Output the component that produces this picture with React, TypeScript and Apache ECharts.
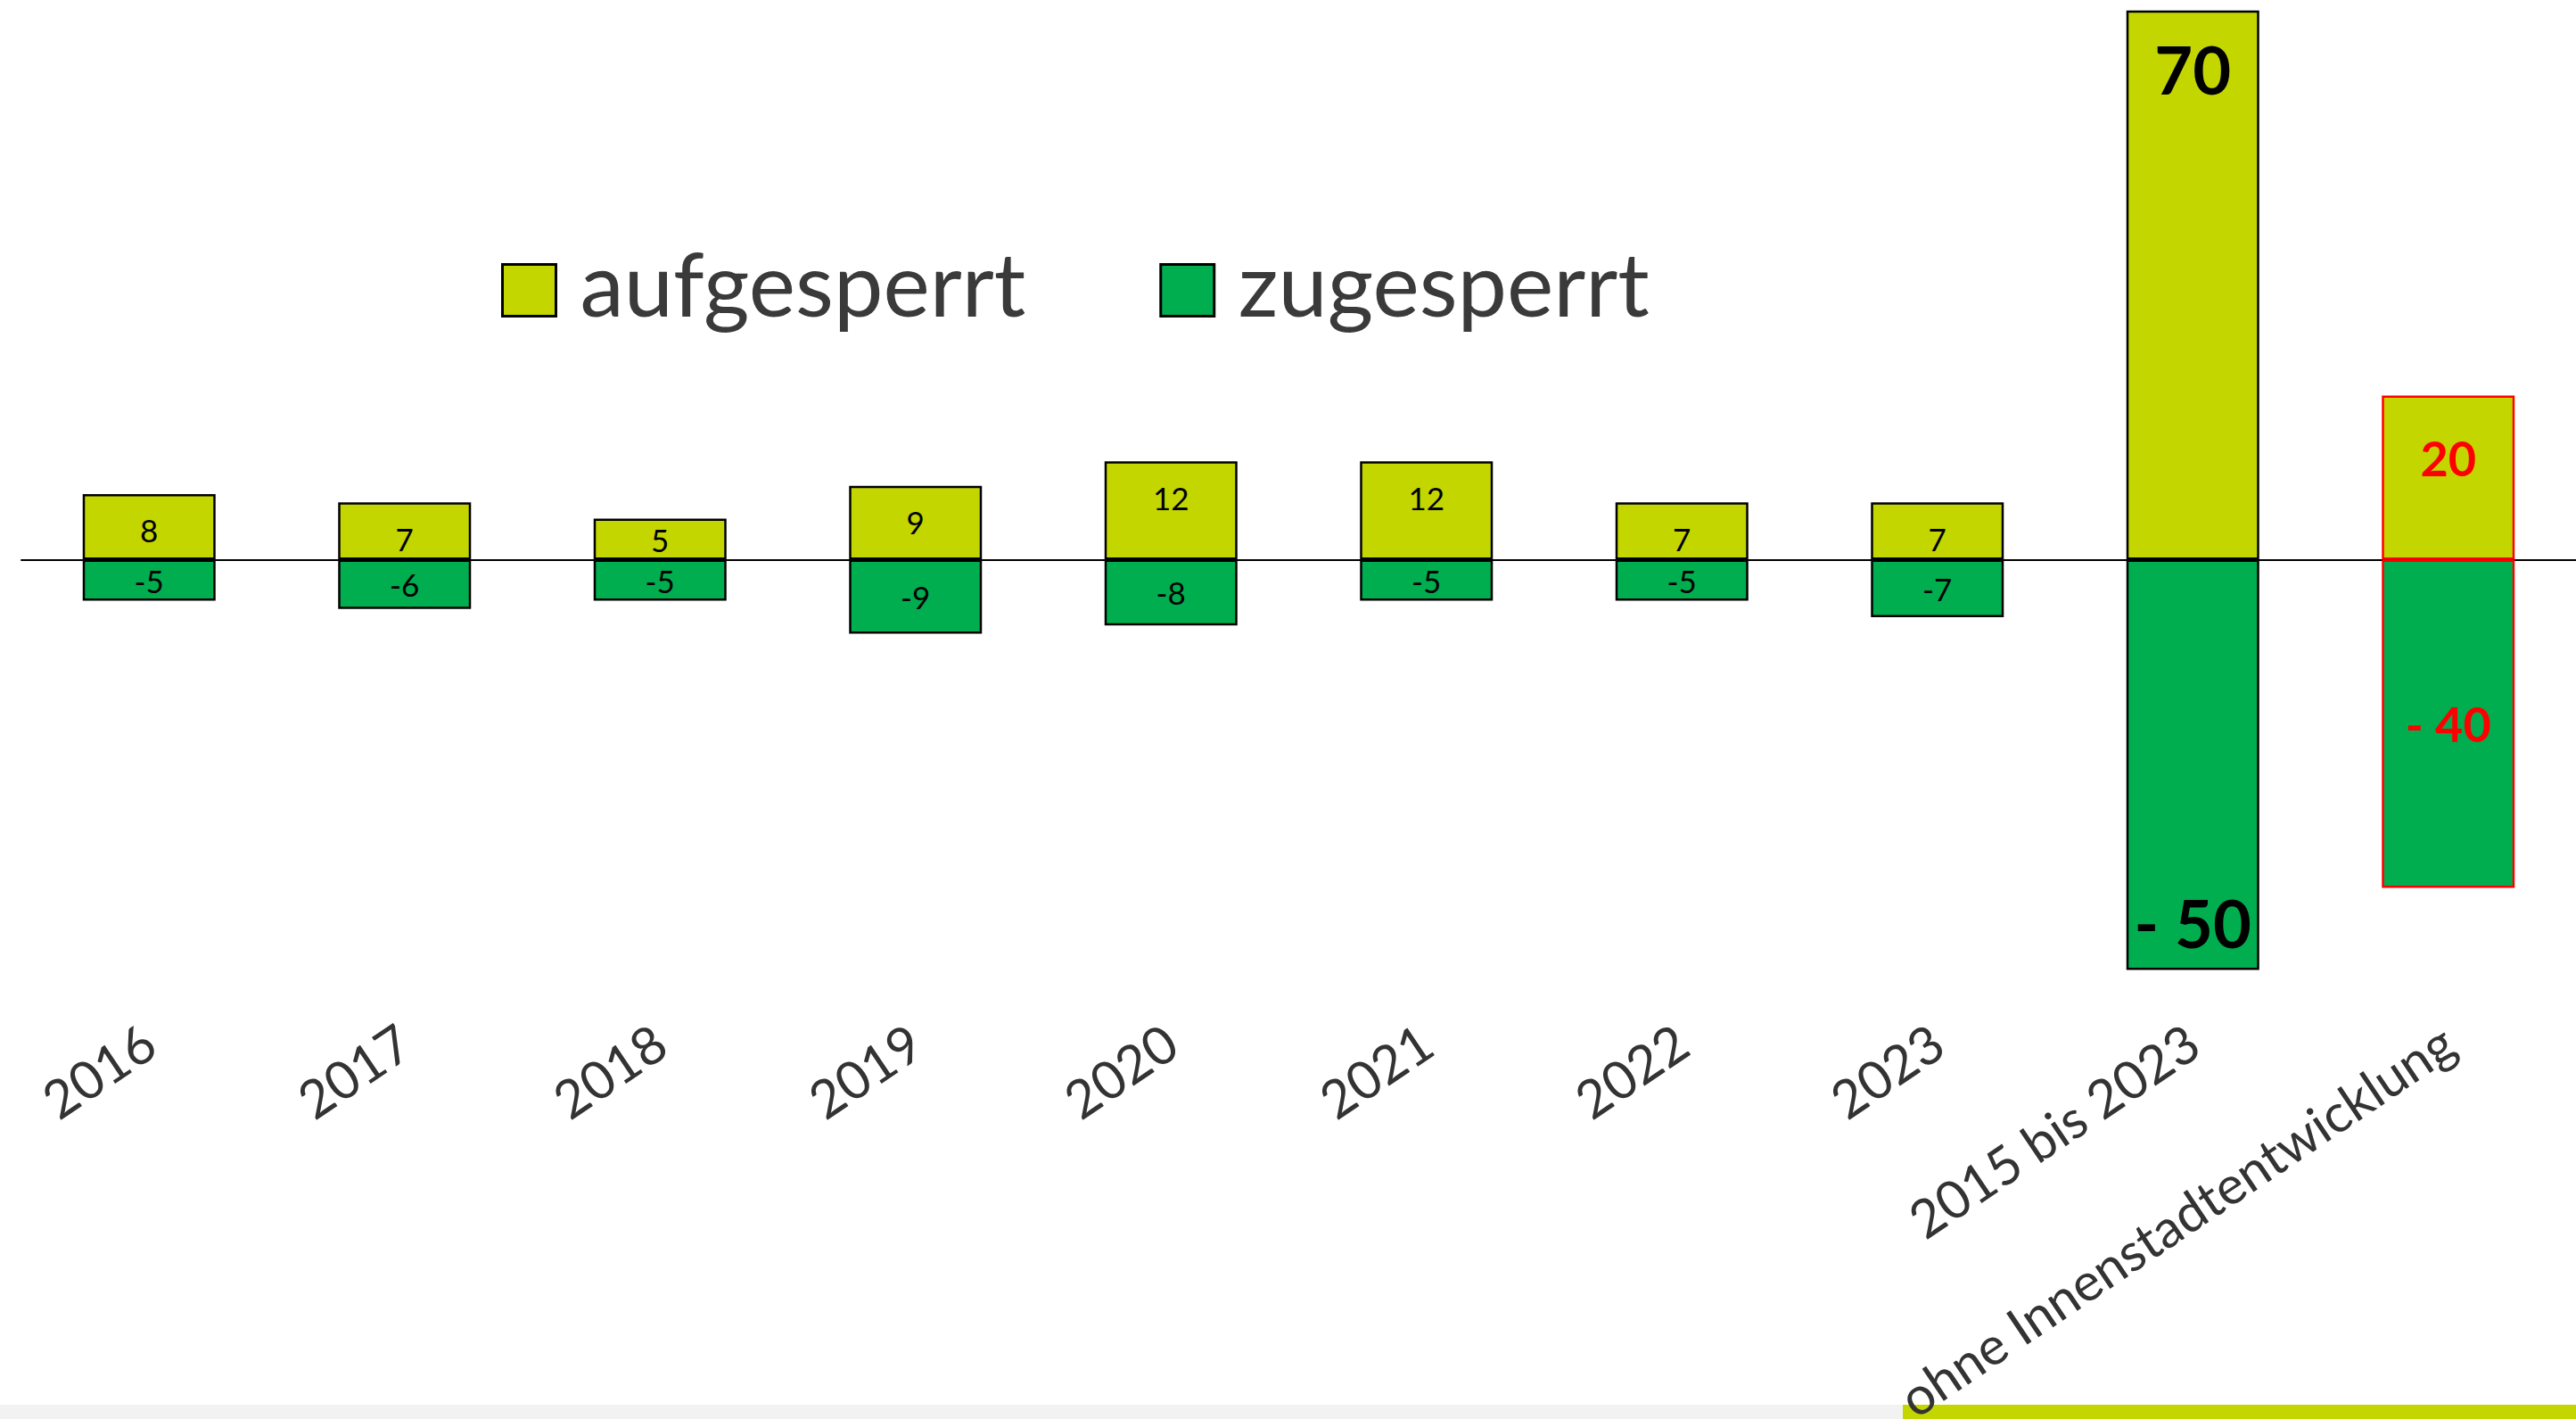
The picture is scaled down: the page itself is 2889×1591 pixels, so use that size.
import React, { useEffect, useRef } from "react";
import * as echarts from "echarts";

const categories = [
  "2016",
  "2017",
  "2018",
  "2019",
  "2020",
  "2021",
  "2022",
  "2023",
  "2015 bis 2023",
  "ohne Innenstadtentwicklung",
];
const seriesNames = ["aufgesperrt", "zugesperrt"];
const openedValues = [8, 7, 5, 9, 12, 12, 7, 7, 70, 20];
const closedValues = [-5, -6, -5, -9, -8, -5, -5, -7, -50, -40];
const openedLabels = ["8", "7", "5", "9", "12", "12", "7", "7", "70", "20"];
const closedLabels = ["-5", "-6", "-5", "-9", "-8", "-5", "-5", "-7", "- 50", "- 40"];

const TOTAL_IDX = 8;
const EXCL_IDX = 9;

const YELLOW = "#C4D600";
const GREEN = "#00AE50";
const FONT = "Lato";

function openedItem(v: number, i: number) {
  let label: any;
  if (i === TOTAL_IDX) {
    label = { position: "insideTop", distance: 29, fontSize: 74, fontWeight: "bold", color: "#000" };
  } else if (i === EXCL_IDX) {
    label = { position: "insideTop", distance: 43, fontSize: 54, fontWeight: "bold", color: "#FF0000" };
  } else if (v >= 7) {
    label = { position: "insideTop", distance: 23, fontSize: 35, color: "#000" };
  } else {
    label = { position: "inside", fontSize: 35, color: "#000" };
  }
  const item: any = { value: v, label };
  if (i === EXCL_IDX) item.itemStyle = { borderColor: "#FF0000" };
  return item;
}

function closedItem(v: number, i: number) {
  let label: any;
  if (i === TOTAL_IDX) {
    label = { position: "insideBottom", distance: 16, fontSize: 74, fontWeight: "bold", color: "#000" };
  } else if (i === EXCL_IDX) {
    label = { position: "inside", fontSize: 54, fontWeight: "bold", color: "#FF0000" };
  } else {
    label = { position: "inside", fontSize: 35, color: "#000" };
  }
  const item: any = { value: v, label };
  if (i === EXCL_IDX) item.itemStyle = { borderColor: "#FF0000" };
  return item;
}

export default function App() {
  const ref = useRef<HTMLDivElement>(null);

  useEffect(() => {
    if (!ref.current) return;
    const chart = echarts.init(ref.current, null, { renderer: "svg" });
    const option: any = {
      animation: false,
      backgroundColor: "#FFFFFF",
      textStyle: { fontFamily: FONT },
      grid: {
        left: 24,
        right: 0,
        top: 13,
        bottom: 485,
        outerBoundsMode: "none",
        containLabel: false,
      },
      legend: {
        left: 557,
        top: 262,
        itemWidth: 60,
        itemHeight: 58,
        itemGap: 150,
        icon: "rect",
        itemStyle: { borderColor: "#000", borderWidth: 3 },
        formatter: (name: string) => `{t|${name}}`,
        textStyle: {
          fontSize: 99,
          color: "#3A3A3A",
          fontFamily: FONT,
          rich: {
            t: {
              fontSize: 99,
              lineHeight: 100,
              color: "#3A3A3A",
              fontFamily: FONT,
              padding: [0, 0, 18, 22],
            },
          },
        },
        data: seriesNames,
      },
      xAxis: [
        {
          type: "category",
          data: categories,
          axisLine: { show: true, onZero: true, lineStyle: { color: "#000", width: 2 } },
          axisTick: { show: false },
          axisLabel: { show: false },
          splitLine: { show: false },
        },
        {
          type: "category",
          data: categories,
          position: "bottom",
          axisLine: { show: false, onZero: false },
          axisTick: { show: false },
          splitLine: { show: false },
          axisLabel: {
            interval: 0,
            rotate: 34,
            margin: 56,
            fontSize: 59,
            color: "#333333",
            fontFamily: FONT,
          },
        },
      ],
      yAxis: {
        type: "value",
        min: -52,
        max: 66.8,
        show: false,
        splitLine: { show: false },
      },
      graphic: [
        {
          type: "rect",
          z: -10,
          silent: true,
          shape: { x: 0, y: 1575, width: 2889, height: 16 },
          style: { fill: "#F2F2F2" },
        },
        {
          type: "rect",
          z: -9,
          silent: true,
          shape: { x: 2134, y: 1575, width: 755, height: 16 },
          style: { fill: YELLOW },
        },
      ],
      series: [
        {
          name: seriesNames[0],
          type: "bar",
          stack: "total",
          xAxisIndex: 0,
          barWidth: 149,
          clip: true,
          itemStyle: { color: YELLOW, borderColor: "#000", borderWidth: 2.5 },
          label: {
            show: true,
            fontFamily: FONT,
            formatter: (p: any) => openedLabels[p.dataIndex],
          },
          data: openedValues.map(openedItem),
        },
        {
          name: seriesNames[1],
          type: "bar",
          stack: "total",
          xAxisIndex: 0,
          barWidth: 149,
          clip: true,
          itemStyle: { color: GREEN, borderColor: "#000", borderWidth: 2.5 },
          label: {
            show: true,
            fontFamily: FONT,
            formatter: (p: any) => closedLabels[p.dataIndex],
          },
          data: closedValues.map(closedItem),
        },
      ],
    };
    chart.setOption(option);
    return () => chart.dispose();
  }, []);

  return (
    <div
      ref={ref}
      style={{ position: "fixed", left: 0, top: 0, width: 2889, height: 1591 }}
    />
  );
}
